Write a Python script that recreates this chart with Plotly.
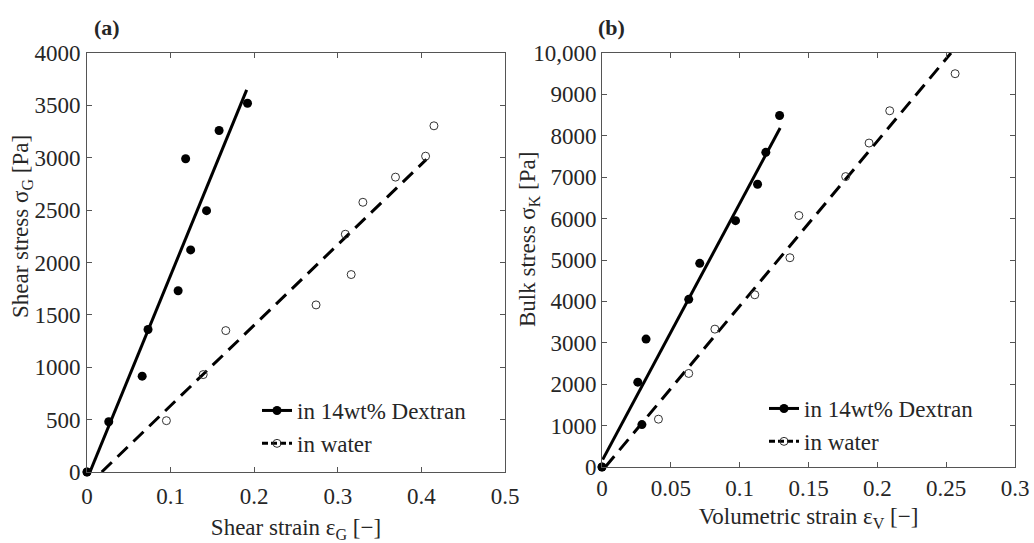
import plotly.graph_objects as go

# ---------------- Data: panel (a) shear ----------------
shear_dex_x = [0.0, 0.026, 0.066, 0.073, 0.109, 0.118, 0.124, 0.143, 0.158, 0.192]
shear_dex_y = [0, 480, 915, 1360, 1730, 2990, 2120, 2495, 3260, 3520]
shear_wat_x = [0.0, 0.095, 0.139, 0.166, 0.274, 0.309, 0.316, 0.330, 0.369, 0.405, 0.415]
shear_wat_y = [0, 490, 930, 1350, 1595, 2270, 1885, 2575, 2815, 3015, 3305]
shear_fit_dex_x = [0.0035, 0.191]
shear_fit_dex_y = [0, 3648]
shear_fit_wat_x = [0.0176, 0.406]
shear_fit_wat_y = [0, 2985]

# ---------------- Data: panel (b) bulk ----------------
bulk_dex_x = [0.0, 0.026, 0.029, 0.032, 0.063, 0.071, 0.097, 0.113, 0.119, 0.129]
bulk_dex_y = [0, 2050, 1025, 3090, 4050, 4920, 5950, 6830, 7600, 8490]
bulk_wat_x = [0.0, 0.041, 0.063, 0.082, 0.111, 0.1365, 0.143, 0.177, 0.194, 0.209, 0.2565]
bulk_wat_y = [0, 1155, 2260, 3330, 4160, 5055, 6075, 7015, 7825, 8605, 9500]
bulk_fit_dex_x = [0.0005, 0.1294]
bulk_fit_dex_y = [180, 8190]
bulk_fit_wat_x = [0.0024, 0.2535]
bulk_fit_wat_y = [0, 10000]

# ---------------- Ticks ----------------
a_xticks = [0, 0.1, 0.2, 0.3, 0.4, 0.5]
a_xtext = ["0", "0.1", "0.2", "0.3", "0.4", "0.5"]
a_yticks = [0, 500, 1000, 1500, 2000, 2500, 3000, 3500, 4000]
a_ytext = ["0", "500", "1000", "1500", "2000", "2500", "3000", "3500", "4000"]
b_xticks = [0, 0.05, 0.1, 0.15, 0.2, 0.25, 0.3]
b_xtext = ["0", "0.05", "0.1", "0.15", "0.2", "0.25", "0.3"]
b_yticks = [0, 1000, 2000, 3000, 4000, 5000, 6000, 7000, 8000, 9000, 10000]
b_ytext = ["0", "1000", "2000", "3000", "4000", "5000", "6000", "7000", "8000", "9000", "10,000"]

legend_names = ["in 14wt% Dextran", "in water"]
a_ytitle = "Shear stress σ<sub>G</sub> [Pa]"
b_ytitle = "Bulk stress σ<sub>K</sub> [Pa]"

FONT = "Liberation Serif"
TXT = "#262626"
AX = "#555555"
LW = 3
DASH = "14px,8px"

fig = go.Figure()

def add_panel(xa, ya, leg, dx, dy, wx, wy, fdx, fdy, fwx, fwy):
    fig.add_trace(go.Scatter(x=fdx, y=fdy, mode="lines", xaxis=xa, yaxis=ya,
                             line=dict(color="black", width=LW), showlegend=False,
                             cliponaxis=False))
    fig.add_trace(go.Scatter(x=fwx, y=fwy, mode="lines", xaxis=xa, yaxis=ya,
                             line=dict(color="black", width=LW, dash=DASH), showlegend=False,
                             cliponaxis=False))
    fig.add_trace(go.Scatter(x=wx, y=wy, mode="markers", xaxis=xa, yaxis=ya,
                             marker=dict(symbol="circle-open", size=8, color="#333",
                                         line=dict(width=1)),
                             showlegend=False, cliponaxis=False))
    fig.add_trace(go.Scatter(x=dx, y=dy, mode="markers", xaxis=xa, yaxis=ya,
                             marker=dict(symbol="circle", size=9, color="black"),
                             showlegend=False, cliponaxis=False))
    # legend entries
    fig.add_trace(go.Scatter(x=[None], y=[None], mode="lines+markers", xaxis=xa, yaxis=ya,
                             name=legend_names[0], legend=leg,
                             line=dict(color="black", width=LW),
                             marker=dict(symbol="circle", size=9, color="black")))
    fig.add_trace(go.Scatter(x=[None], y=[None], mode="lines+markers", xaxis=xa, yaxis=ya,
                             name=legend_names[1], legend=leg,
                             line=dict(color="black", width=LW, dash="6px,3px"),
                             marker=dict(symbol="circle-open", size=8, color="#333",
                                         line=dict(width=1))))

add_panel("x", "y", "legend", shear_dex_x, shear_dex_y, shear_wat_x, shear_wat_y,
          shear_fit_dex_x, shear_fit_dex_y, shear_fit_wat_x, shear_fit_wat_y)
add_panel("x2", "y2", "legend2", bulk_dex_x, bulk_dex_y, bulk_wat_x, bulk_wat_y,
          bulk_fit_dex_x, bulk_fit_dex_y, bulk_fit_wat_x, bulk_fit_wat_y)

W, H = 1034, 543

def axis(domain, rng, tv, tt, title, anchor, standoff, tls):
    d = dict(domain=domain, range=rng, tickvals=tv, ticktext=tt, anchor=anchor,
             showline=True, mirror="ticks", linecolor=AX, linewidth=1,
             ticks="inside", ticklen=5, tickcolor=AX, tickwidth=1,
             showgrid=False, zeroline=False, automargin=False,
             tickfont=dict(family=FONT, size=23, color=TXT),
             ticklabelstandoff=tls)
    if title:
        d["title"] = dict(text=title, font=dict(family=FONT, size=23, color=TXT),
                          standoff=standoff)
    return d

def ytitle(text, xpx, ypx):
    return dict(text=text, x=xpx / W, y=1 - ypx / H, xref="paper", yref="paper",
                xanchor="center", yanchor="middle", textangle=-90, showarrow=False,
                font=dict(family=FONT, size=23, color=TXT))

fig.update_layout(
    width=W, height=H,
    margin=dict(l=0, r=0, t=0, b=0, autoexpand=False),
    plot_bgcolor="white", paper_bgcolor="white",
    font=dict(family=FONT, color=TXT),
    xaxis=axis([87 / W, 505 / W], [0, 0.5], a_xticks, a_xtext,
               "Shear strain ε<sub>G</sub> [−]", "y", 18, 3),
    yaxis=axis([1 - 472 / H, 1 - 53 / H], [0, 4000], a_yticks, a_ytext,
               None, "x", 0, 1),
    xaxis2=axis([602 / W, 1015 / W], [0, 0.3], b_xticks, b_xtext,
                "Volumetric strain ε<sub>V</sub> [−]", "y2", 8, 0),
    yaxis2=axis([1 - 467 / H, 1 - 53 / H], [0, 10000], b_yticks, b_ytext,
                None, "x2", 0, 0),
    legend=dict(x=257 / W, y=1 - 389 / H, xanchor="left", yanchor="top",
                bgcolor="rgba(0,0,0,0)", font=dict(family=FONT, size=23, color=TXT),
                itemwidth=30, tracegroupgap=0),
    legend2=dict(x=764 / W, y=1 - 387 / H, xanchor="left", yanchor="top",
                 bgcolor="rgba(0,0,0,0)", font=dict(family=FONT, size=23, color=TXT),
                 itemwidth=30, tracegroupgap=0),
    annotations=[
        dict(text="<b>(a)</b>", x=107 / W, y=1 - 28 / H, xref="paper", yref="paper",
             xanchor="center", yanchor="middle",
             showarrow=False, font=dict(family=FONT, size=22, color=TXT)),
        dict(text="<b>(b)</b>", x=611 / W, y=1 - 28 / H, xref="paper", yref="paper",
             xanchor="center", yanchor="middle",
             showarrow=False, font=dict(family=FONT, size=22, color=TXT)),
        ytitle(a_ytitle, 22, 227),
        ytitle(b_ytitle, 529, 240),
    ],
)

fig.write_html("out.html")
